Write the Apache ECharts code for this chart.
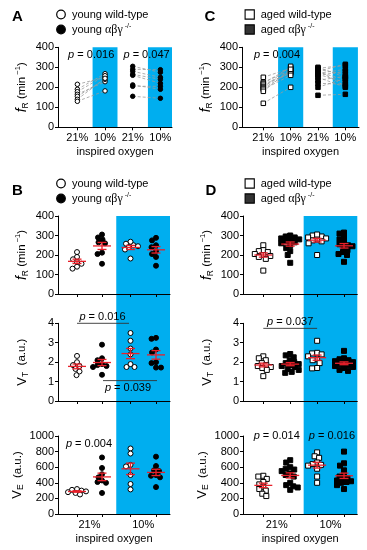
<!DOCTYPE html>
<html><head><meta charset="utf-8">
<script src="https://cdn.jsdelivr.net/npm/echarts@6/dist/echarts.min.js"></script>
<style>html,body{margin:0;padding:0;background:#fff}#c{width:367px;height:550px}</style>
</head><body><div id="c"></div>
<script>
// ---------------- DATA ----------------
const oxygenLevels = ['21%', '10%'];
const xAxisTitle = 'inspired oxygen';
const legendYoung = ['young wild-type', 'young'];
const legendAged = ['aged wild-type', 'aged'];
const panelLetters = ['A', 'B', 'C', 'D'];

// young mice (A, B)
const youngWT_fR_21 = [215, 190, 178, 165, 155, 140, 130];
const youngWT_fR_10 = [250, 268, 258, 228, 240, 245, 182];
const youngKO_fR_21 = [305, 290, 280, 265, 260, 212, 205, 155];
const youngKO_fR_10 = [275, 288, 250, 240, 220, 190, 205, 145];
const youngWT_VT_21 = [2.32, 2.0, 1.85, 1.8, 1.65, 1.52, 1.33];
const youngWT_VT_10 = [3.5, 3.1, 2.7, 2.4, 1.9, 1.75, 1.75];
const youngKO_VT_21 = [2.9, 2.2, 2.1, 1.9, 1.85, 1.8, 1.75, 1.35];
const youngKO_VT_10 = [3.25, 3.2, 2.65, 2.5, 2.0, 1.95, 1.72, 1.72];
const youngWT_VE_21 = [320, 310, 300, 290, 280, 270, 250];
const youngWT_VE_10 = [840, 775, 630, 610, 500, 385, 315];
const youngKO_VE_21 = [725, 590, 510, 470, 430, 410, 400, 270];
const youngKO_VE_10 = [735, 615, 560, 550, 500, 490, 470, 345];

// aged mice (C, D)
const agedWT_fR_21 = [250, 225, 220, 215, 205, 200, 195, 190, 180, 120];
const agedWT_fR_10 = [295, 285, 300, 270, 280, 305, 275, 260, 290, 200];
const agedKO_fR_21 = [300, 295, 290, 285, 280, 275, 270, 265, 260, 250, 235, 220, 200, 160];
const agedKO_fR_10 = [250, 310, 265, 205, 315, 240, 290, 225, 280, 200, 255, 215, 245, 165];
const agedWT_VT_21 = [2.3, 2.2, 2.1, 1.95, 1.85, 1.8, 1.75, 1.7, 1.6, 1.28];
const agedWT_VT_10 = [3.1, 2.48, 2.45, 2.4, 2.3, 2.15, 2.1, 1.95, 1.7, 1.68];
const agedKO_VT_21 = [2.42, 2.35, 2.25, 2.1, 2.0, 1.95, 1.9, 1.85, 1.8, 1.75, 1.65, 1.6, 1.5, 1.45];
const agedKO_VT_10 = [2.58, 2.2, 2.15, 2.1, 2.05, 2.0, 1.95, 1.9, 1.85, 1.8, 1.75, 1.7, 1.6, 1.55];
const agedWT_VE_21 = [490, 480, 450, 410, 380, 350, 320, 300, 260, 230];
const agedWT_VE_10 = [790, 740, 720, 660, 640, 630, 620, 580, 480, 400];
const agedKO_VE_21 = [690, 660, 600, 580, 570, 550, 520, 500, 480, 400, 370, 355, 340, 310];
const agedKO_VE_10 = [800, 650, 620, 560, 500, 480, 460, 440, 430, 420, 410, 400, 370, 320];

// p-value labels
const pA = ['0.016', '0.047'];
const pC = ['0.004'];
const pB_VT = ['0.016', '0.039'];
const pB_VE = ['0.004'];
const pD_VT = ['0.037'];
const pD_VE = ['0.014', '0.016'];

// ---------------- STYLE / LAYOUT ----------------
const F = '"Liberation Sans", Arial, Helvetica, sans-serif';
const SERIF = '"Liberation Serif", "DejaVu Serif", serif';
const BLUE = '#00AEEF', RED = '#E8202A', GREY = '#9a9a9a';

const mean = a => a.reduce((s, v) => s + v, 0) / a.length;
const sem = a => { const m = mean(a); const v = a.reduce((s, x) => s + (x - m) * (x - m), 0) / (a.length - 1); return Math.sqrt(v / a.length); };

const grids = [], xAxes = [], yAxes = [], series = [];
function addGrid(g, xa, ya) { const i = grids.length; grids.push(g); xa.gridIndex = i; ya.gridIndex = i; xAxes.push(xa); yAxes.push(ya); return i; }

const nameRich = {
  f: { fontFamily: F, fontStyle: 'italic', fontSize: 14, lineHeight: 16, color: '#000' },
  v: { fontFamily: F, fontSize: 13, lineHeight: 16, color: '#000' },
  n: { fontFamily: F, fontSize: 11.5, lineHeight: 16, color: '#000' },
  sub: { fontFamily: F, fontSize: 8.5, lineHeight: 9, verticalAlign: 'bottom', color: '#000' },
  sup: { fontFamily: F, fontSize: 7.5, lineHeight: 8, verticalAlign: 'top', color: '#000' }
};
const NAME_FR = '{f|f}{sub|R}{n| (min}{sup| \u22121}{n|)}';
const NAME_VT = '{v|V}{sub|T}{n|  (a.u.)}';
const NAME_VE = '{v|V}{sub|E}{n|  (a.u.)}';

function yAx(min, max, interval, name) {
  return {
    type: 'value', min, max, interval, z: 3,
    axisLine: { show: true, onZero: false, lineStyle: { color: '#000', width: 1 } },
    axisTick: { show: true, inside: false, length: 3, lineStyle: { color: '#000', width: 1 } },
    axisLabel: { color: '#000', fontSize: 11, fontFamily: F, margin: 4, formatter: v => String(v) },
    splitLine: { show: false },
    name, nameLocation: 'middle', nameGap: 28,
    nameTextStyle: { color: '#000', fontSize: 11.5, fontFamily: F, rich: nameRich }
  };
}
function xAx(min, max, ticks, labelVals, labelTexts, name) {
  return {
    type: 'value', min, max, z: 3,
    axisLine: { show: true, onZero: false, lineStyle: { color: '#000', width: 1 } },
    axisTick: { show: true, length: 3, customValues: ticks, lineStyle: { color: '#000', width: 1 } },
    axisLabel: {
      show: labelVals.length > 0, customValues: labelVals, color: '#000', fontSize: 11, fontFamily: F, margin: 5,
      formatter: v => { const i = labelVals.findIndex(u => Math.abs(u - v) < 1e-6); return i >= 0 ? labelTexts[i] : ''; }
    },
    splitLine: { show: false },
    name: name || '', nameLocation: 'middle', nameGap: 19,
    nameTextStyle: { color: '#000', fontSize: 11, fontFamily: F }
  };
}
const hiddenAx = (min, max) => ({ type: 'value', min, max, show: false });

function bandSeries(gi, ranges, ylo, yhi) {
  return {
    type: 'custom', xAxisIndex: gi, yAxisIndex: gi, z: 0, silent: true, data: ranges,
    renderItem(p, api) {
      const a = api.coord([api.value(0), yhi]), b = api.coord([api.value(1), ylo]);
      return { type: 'rect', shape: { x: a[0], y: a[1], width: b[0] - a[0], height: b[1] - a[1] }, style: { fill: BLUE } };
    }
  };
}
function pairSeries(gi, x1, a, x2, b) {
  return {
    type: 'custom', xAxisIndex: gi, yAxisIndex: gi, z: 2, silent: true,
    data: a.map((v, i) => [x1, v, x2, b[i]]), encode: { x: [0, 2], y: [1, 3] },
    renderItem(p, api) {
      const s = api.coord([api.value(0), api.value(1)]), e = api.coord([api.value(2), api.value(3)]);
      return { type: 'line', shape: { x1: s[0], y1: s[1], x2: e[0], y2: e[1] }, style: { stroke: GREY, lineWidth: 0.8, lineDash: [3, 2] } };
    }
  };
}
function pointSeries(gi, pts, symbol, filled, size) {
  return {
    type: 'scatter', xAxisIndex: gi, yAxisIndex: gi, z: 4, silent: true, data: pts,
    symbol, symbolSize: size,
    itemStyle: { color: filled ? '#000' : '#fff', borderColor: '#000', borderWidth: 1, opacity: 1 }
  };
}
function meanSeries(gi, rows) {
  return {
    type: 'custom', xAxisIndex: gi, yAxisIndex: gi, z: 5, silent: true, data: rows, encode: { x: 0, y: 1 },
    renderItem(p, api) {
      const x = api.value(0), m = api.value(1), s = api.value(2);
      const c = api.coord([x, m]), t = api.coord([x, m + s]), b = api.coord([x, m - s]);
      const st = { stroke: RED, lineWidth: 1.3 };
      return { type: 'group', children: [
        { type: 'line', shape: { x1: c[0] - 9, y1: c[1], x2: c[0] + 9, y2: c[1] }, style: st },
        { type: 'line', shape: { x1: c[0], y1: t[1], x2: c[0], y2: b[1] }, style: st },
        { type: 'line', shape: { x1: c[0] - 4.5, y1: t[1], x2: c[0] + 4.5, y2: t[1] }, style: st },
        { type: 'line', shape: { x1: c[0] - 4.5, y1: b[1], x2: c[0] + 4.5, y2: b[1] }, style: st }
      ] };
    }
  };
}
function textSeries(gi, pos, texts) {
  return {
    type: 'custom', xAxisIndex: gi, yAxisIndex: gi, z: 6, silent: true, data: pos, encode: { x: 0, y: 1 },
    renderItem(p, api) {
      const c = api.coord([api.value(0), api.value(1)]);
      return { type: 'text', x: c[0], y: c[1], style: {
        text: '{i|p} = ' + texts[p.dataIndex], fill: '#000', fontSize: 11, fontFamily: F,
        align: 'center', verticalAlign: 'middle',
        rich: { i: { fontStyle: 'italic', fontSize: 11, fontFamily: F, fill: '#000' } } } };
    }
  };
}
function bracketSeries(gi, rows) {
  return {
    type: 'custom', xAxisIndex: gi, yAxisIndex: gi, z: 6, silent: true, data: rows, encode: { x: [0, 1], y: 2 },
    renderItem(p, api) {
      const a = api.coord([api.value(0), api.value(2)]), b = api.coord([api.value(1), api.value(2)]);
      return { type: 'line', shape: { x1: a[0], y1: a[1], x2: b[0], y2: b[1] }, style: { stroke: '#333', lineWidth: 0.9 } };
    }
  };
}
// simple beeswarm: horizontal pixel offsets so markers overlap little, capped width
function swarm(vals, pxY, d, maxOff) {
  const order = vals.map((v, i) => i).sort((a, b) => vals[b] - vals[a]);
  const placed = [], off = new Array(vals.length);
  for (const i of order) {
    const y = vals[i] * pxY;
    let best = 0, bestScore = Infinity;
    for (let k = 0; k <= maxOff * 4; k++) {
      const cand = (k % 2 === 0 ? 1 : -1) * Math.ceil(k / 2) * 0.5;
      let overlap = 0;
      placed.forEach(p => { const dist = Math.hypot(p.x - cand, p.y - y); if (dist < d) overlap += d - dist; });
      if (overlap === 0) { best = cand; bestScore = 0; break; }
      if (overlap < bestScore - 1e-9) { bestScore = overlap; best = cand; }
    }
    placed.push({ x: best, y }); off[i] = best;
  }
  return off;
}

// ---------- Paired panels A and C ----------
function pairedPanel(L, wt21, wt10, ko21, ko10, symbol, pTexts, pPos) {
  const ticks = [1, 2, 3, 4];
  const labels = [oxygenLevels[0], oxygenLevels[1], oxygenLevels[0], oxygenLevels[1]];
  const gi = addGrid({ left: L.left, top: L.top, width: L.width, height: L.height },
    xAx(L.xmin, L.xmax, ticks, ticks, labels, xAxisTitle), yAx(0, 400, 100, NAME_FR));
  series.push(bandSeries(gi, [2, 4].map(c => [c - L.half, Math.min(L.xmax, c + L.half)]), 0, 400));
  series.push(pairSeries(gi, 1, wt21, 2, wt10));
  series.push(pairSeries(gi, 3, ko21, 4, ko10));
  series.push(pointSeries(gi, wt21.map(v => [1, v]), symbol, false, 4.5));
  series.push(pointSeries(gi, wt10.map(v => [2, v]), symbol, false, 4.5));
  series.push(pointSeries(gi, ko21.map(v => [3, v]), symbol, true, 4.5));
  series.push(pointSeries(gi, ko10.map(v => [4, v]), symbol, true, 4.5));
  series.push(textSeries(gi, pPos, pTexts));
}
pairedPanel({ left: 58, top: 47.3, width: 114, height: 80, xmin: 0.3, xmax: 4.42, half: 0.45 },
  youngWT_fR_21, youngWT_fR_10, youngKO_fR_21, youngKO_fR_10, 'circle', pA, [[1.5, 362], [3.5, 362]]);
pairedPanel({ left: 242, top: 47.3, width: 117, height: 80, xmin: 0.22, xmax: 4.5, half: 0.46 },
  agedWT_fR_21, agedWT_fR_10, agedKO_fR_21, agedKO_fR_10, 'rect', pC, [[1.5, 362]]);

// ---------- Swarm panels B and D ----------
function swarmPanel(L, metrics, symbol) {
  const pxX = L.width / (L.xmax - L.xmin);
  const bandStart = (L.pos[1] + L.pos[2]) / 2;
  const bgTop = L.tops[0], bgH = L.tops[2] + L.heights[2] - L.tops[0];
  const bg = addGrid({ left: L.left, top: bgTop, width: L.width, height: bgH }, hiddenAx(L.xmin, L.xmax), hiddenAx(0, 1));
  series.push(bandSeries(bg, [[bandStart, L.xmax]], 0, 1));
  metrics.forEach((m, k) => {
    const last = k === metrics.length - 1;
    const labVals = last ? [(L.pos[0] + L.pos[1]) / 2, (L.pos[2] + L.pos[3]) / 2] : [];
    const gi = addGrid({ left: L.left, top: L.tops[k], width: L.width, height: L.heights[k] },
      xAx(L.xmin, L.xmax, L.pos, labVals, oxygenLevels, last ? xAxisTitle : ''),
      yAx(m.min, m.max, m.interval, m.name));
    const pxY = L.heights[k] / (m.max - m.min);
    m.groups.forEach((vals, g) => {
      const off = swarm(vals, pxY, 4.6, 9);
      series.push(pointSeries(gi, vals.map((v, i) => [L.pos[g] + off[i] / pxX, v]), symbol, g % 2 === 1, 5));
    });
    series.push(meanSeries(gi, m.groups.map((vals, g) => [L.pos[g], mean(vals), sem(vals)])));
    if (m.brackets) series.push(bracketSeries(gi, m.brackets));
    if (m.texts) series.push(textSeries(gi, m.textPos, m.texts));
  });
}
// B : order WT21, KO21, WT10, KO10
swarmPanel({ left: 58, width: 112, xmin: 0.24, xmax: 4.72, pos: [1, 2, 3.14, 4.16], tops: [216, 323.3, 436], heights: [78, 77.7, 78] }, [
  { min: 0, max: 400, interval: 100, name: NAME_FR, groups: [youngWT_fR_21, youngKO_fR_21, youngWT_fR_10, youngKO_fR_10] },
  { min: 0, max: 4, interval: 1, name: NAME_VT, groups: [youngWT_VT_21, youngKO_VT_21, youngWT_VT_10, youngKO_VT_10],
    brackets: [[1, 3.08, 4.0], [2.04, 4.2, 1.05]], texts: pB_VT, textPos: [[2.02, 4.35], [3.04, 0.65]] },
  { min: 0, max: 1000, interval: 200, name: NAME_VE, groups: [youngWT_VE_21, youngKO_VE_21, youngWT_VE_10, youngKO_VE_10],
    texts: pB_VE, textPos: [[1.48, 897]] }
], 'circle');
// D
swarmPanel({ left: 243, width: 114.3, xmin: 0.245, xmax: 4.494, pos: [1, 2, 3, 4], tops: [216, 323.3, 436], heights: [78, 77.7, 78] }, [
  { min: 0, max: 400, interval: 100, name: NAME_FR, groups: [agedWT_fR_21, agedKO_fR_21, agedWT_fR_10, agedKO_fR_10] },
  { min: 0, max: 4, interval: 1, name: NAME_VT, groups: [agedWT_VT_21, agedKO_VT_21, agedWT_VT_10, agedKO_VT_10],
    brackets: [[1, 3, 3.74]], texts: pD_VT, textPos: [[2, 4.08]] },
  { min: 0, max: 1000, interval: 200, name: NAME_VE, groups: [agedWT_VE_21, agedKO_VE_21, agedWT_VE_10, agedKO_VE_10],
    texts: pD_VE, textPos: [[1.5, 1000], [3.55, 1000]] }
], 'rect');

// ---------- legends & letters ----------
const legRich = {
  g: { fontFamily: SERIF, fontSize: 12, fill: '#000', lineHeight: 14 },
  sup: { fontFamily: F, fontSize: 7, fill: '#000', verticalAlign: 'top', lineHeight: 7 }
};
function legend(x, y, names, symbol) {
  const els = [];
  [0, 1].forEach(k => {
    const cy = y + k * 15;
    if (symbol === 'circle') els.push({ type: 'circle', shape: { cx: x, cy, r: 4.3 }, style: { fill: k ? '#000' : '#fff', stroke: '#000', lineWidth: 1.2 } });
    else els.push({ type: 'rect', shape: { x: x - 4.6, y: cy - 4.6, width: 9.2, height: 9.2 }, style: { fill: k ? '#333' : '#fff', stroke: '#000', lineWidth: 1.1 } });
    els.push({ type: 'text', x: x + 11, y: cy, style: {
      text: k ? names[1] + ' {g|\u03b1\u03b2\u03b3}{sup| -/-}' : names[0],
      fill: '#000', fontSize: 11, fontFamily: F, align: 'left', verticalAlign: 'middle', rich: legRich } });
  });
  return els;
}
const letter = (t, x, y) => ({ type: 'text', x, y, style: { text: t, fill: '#000', font: 'bold 15px ' + F, align: 'center', verticalAlign: 'middle' } });
const graphic = [].concat(
  legend(61, 14.5, legendYoung, 'circle'), legend(249.7, 14.5, legendAged, 'rect'),
  legend(61, 183.5, legendYoung, 'circle'), legend(249.7, 183.5, legendAged, 'rect'),
  [letter(panelLetters[0], 17.5, 16.5), letter(panelLetters[2], 210, 16.5), letter(panelLetters[1], 17.5, 191), letter(panelLetters[3], 211, 191)]
);

const chart = echarts.init(document.getElementById('c'), null, { renderer: 'canvas' });
chart.setOption({
  animation: false, backgroundColor: '#fff',
  grid: grids, xAxis: xAxes, yAxis: yAxes, series, graphic
});
</script></body></html>
